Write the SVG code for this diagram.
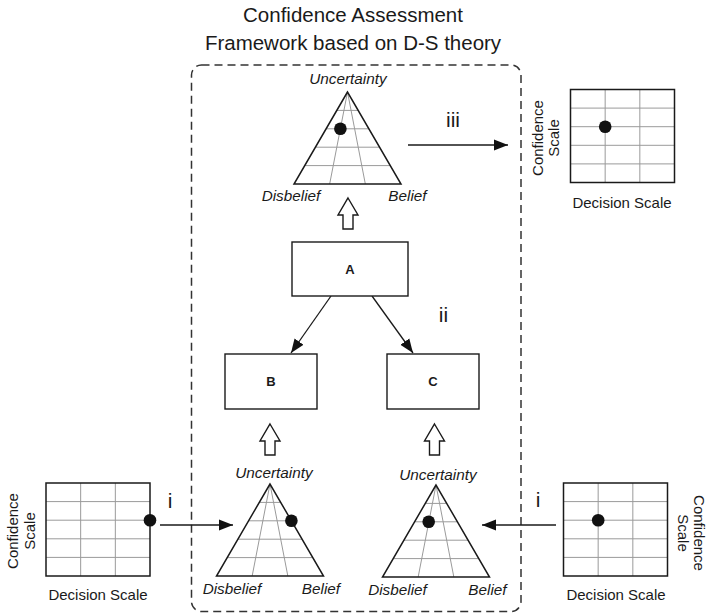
<svg xmlns="http://www.w3.org/2000/svg" xmlns:xlink="http://www.w3.org/1999/xlink" width="707" height="615" viewBox="0 0 707 615">
  <style>
    text { font-family: "Liberation Sans", Arial, sans-serif; fill: #1a1a1a; }
    .title { font-size: 20.5px; text-anchor: middle; }
    .lab { font-size: 15.3px; font-style: italic; text-anchor: middle; }
    .scale { font-size: 15px; text-anchor: middle; }
    .num { font-size: 21px; text-anchor: middle; }
    .node-label { font-size: 13px; font-weight: bold; text-anchor: middle; }
    .box { fill: #fff; stroke: #1a1a1a; stroke-width: 1.4; }
    .outline { fill: none; stroke: #1a1a1a; stroke-width: 1.5; stroke-linejoin: miter; }
    .grid { fill: none; stroke: #9a9a9a; stroke-width: 1; }
    .dot { fill: #111; }
    .conn { fill: none; stroke: #1a1a1a; stroke-width: 1.3; }
    .hollow { fill: #fff; stroke: #1a1a1a; stroke-width: 1.4; stroke-linejoin: miter; }
    .frame { fill: none; stroke: #333; stroke-width: 1.5; stroke-dasharray: 8 5; }
  </style>
  <defs>
    <marker id="head" markerUnits="userSpaceOnUse" markerWidth="16" markerHeight="12" refX="14" refY="6" orient="auto">
      <path d="M0,0.5 L14,6 L0,11.5 Z" fill="#111"/>
    </marker>
    <!-- D-S triangle (apex at origin): grid lines, then outline -->
    <g id="tri">
      <path class="grid" d="M-10.7,18.4 H10.7 M-21.4,36.8 H21.4 M-32.1,55.2 H32.1 M-42.8,73.6 H42.8 M0,0 L-17.83,92 M0,0 L17.83,92"/>
      <path class="outline" d="M0,0 L-53.5,92 L53.5,92 Z"/>
    </g>
    <!-- decision/confidence grid (top-left at origin) -->
    <g id="scalegrid">
      <path class="grid" d="M34.67,0 V93 M69.33,0 V93 M0,18.6 H104 M0,37.2 H104 M0,55.8 H104 M0,74.4 H104"/>
      <rect class="outline" x="0" y="0" width="104" height="93"/>
    </g>
    <!-- hollow block arrow, tip at origin -->
    <path id="blockup" class="hollow" d="M0,0 L10,17 L5,17 L5,31 L-5,31 L-5,17 L-10,17 Z"/>
  </defs>

  <text class="title" x="353" y="22">Confidence Assessment</text>
  <text class="title" x="353" y="50">Framework based on D-S theory</text>

  <rect class="frame" x="191.5" y="65" width="329.5" height="546.5" rx="10" ry="10"/>

  <g id="connectors">
    <line class="conn" x1="408" y1="145" x2="508" y2="145" marker-end="url(#head)"/>
    <line class="conn" x1="331" y1="296" x2="291" y2="353" marker-end="url(#head)"/>
    <line class="conn" x1="372" y1="296" x2="413" y2="353" marker-end="url(#head)"/>
    <line class="conn" x1="160" y1="525" x2="233" y2="525" marker-end="url(#head)"/>
    <line class="conn" x1="556" y1="525" x2="482" y2="525" marker-end="url(#head)"/>
    <use xlink:href="#blockup" x="348" y="198"/>
    <use xlink:href="#blockup" x="270" y="424"/>
    <use xlink:href="#blockup" x="434.5" y="424"/>
    <text class="num" x="453" y="127">iii</text>
    <text class="num" x="443.5" y="322">ii</text>
    <text class="num" x="170" y="508">i</text>
    <text class="num" x="538" y="507">i</text>
  </g>

  <g id="tri-top">
    <use xlink:href="#tri" x="347.5" y="92"/>
    <circle class="dot" cx="340.4" cy="128.8" r="6.3"/>
    <text class="lab" x="348" y="84">Uncertainty</text>
    <text class="lab" x="291" y="201">Disbelief</text>
    <text class="lab" x="407.5" y="201">Belief</text>
  </g>

  <g id="node-a">
    <rect class="box" x="292" y="242" width="116" height="54"/>
    <text class="node-label" x="350" y="274">A</text>
  </g>
  <g id="node-b">
    <rect class="box" x="225" y="354" width="92" height="55"/>
    <text class="node-label" x="271" y="386">B</text>
  </g>
  <g id="node-c">
    <rect class="box" x="387" y="354" width="92" height="55"/>
    <text class="node-label" x="433" y="386">C</text>
  </g>

  <g id="tri-left">
    <use xlink:href="#tri" x="270" y="484"/>
    <circle class="dot" cx="291.4" cy="520.8" r="6.3"/>
    <text class="lab" x="274" y="478">Uncertainty</text>
    <text class="lab" x="232" y="594">Disbelief</text>
    <text class="lab" x="321" y="594">Belief</text>
  </g>

  <g id="tri-right">
    <use xlink:href="#tri" x="436" y="485"/>
    <circle class="dot" cx="428.7" cy="521.8" r="6.3"/>
    <text class="lab" x="438" y="480">Uncertainty</text>
    <text class="lab" x="397.5" y="595">Disbelief</text>
    <text class="lab" x="487.5" y="595">Belief</text>
  </g>

  <g id="scale-out">
    <use xlink:href="#scalegrid" x="570.5" y="89.5"/>
    <circle class="dot" cx="605.2" cy="126.7" r="6.3"/>
    <text class="scale" x="622" y="208">Decision Scale</text>
    <text class="scale" transform="translate(543,138) rotate(-90)">Confidence</text>
    <text class="scale" transform="translate(559,138) rotate(-90)">Scale</text>
  </g>

  <g id="scale-left">
    <use xlink:href="#scalegrid" x="46" y="483"/>
    <circle class="dot" cx="150" cy="520.2" r="6.3"/>
    <text class="scale" x="98" y="600">Decision Scale</text>
    <text class="scale" transform="translate(18,531) rotate(-90)">Confidence</text>
    <text class="scale" transform="translate(35,531) rotate(-90)">Scale</text>
  </g>

  <g id="scale-right">
    <use xlink:href="#scalegrid" x="563.5" y="483"/>
    <circle class="dot" cx="598.2" cy="520.2" r="6.3"/>
    <text class="scale" x="616" y="600">Decision Scale</text>
    <text class="scale" transform="translate(693.5,533) rotate(90)">Confidence</text>
    <text class="scale" transform="translate(677.5,533) rotate(90)">Scale</text>
  </g>
</svg>
